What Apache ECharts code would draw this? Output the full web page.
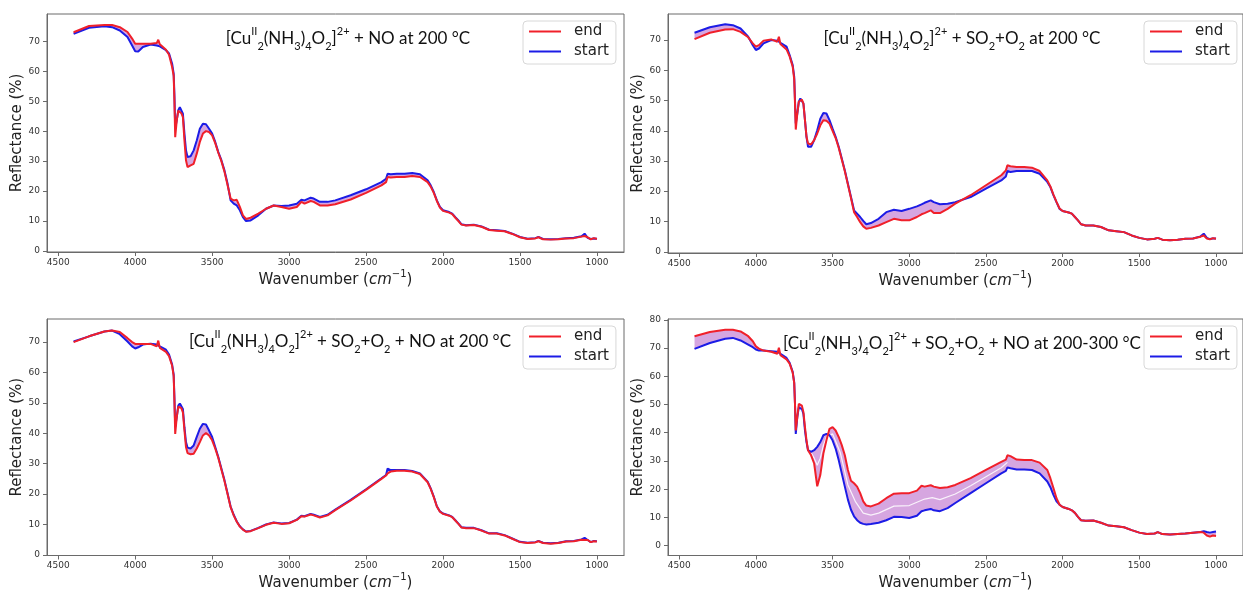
<!DOCTYPE html>
<html>
<head>
<meta charset="utf-8">
<title>Reflectance spectra</title>
<script src="https://cdn.jsdelivr.net/npm/echarts@6/dist/echarts.min.js"></script>
<style>
  html, body { margin: 0; padding: 0; background: #fff; }
  #chart { width: 1243px; height: 592px; }
</style>
</head>
<body>
<div id="chart"></div>
<script>
// wavenumber grid shared by all spectra (cm-1)
const wavenumbers = [
  4400, 4300, 4200, 4150, 4100, 4050, 4020, 4000, 3980, 3950,
  3900, 3860, 3850, 3840, 3800, 3780, 3760, 3750, 3745, 3740,
  3730, 3720, 3710, 3700, 3690, 3680, 3670, 3660, 3640, 3620,
  3600, 3580, 3560, 3540, 3520, 3500, 3480, 3460, 3440, 3420,
  3400, 3380, 3360, 3340, 3320, 3300, 3280, 3250, 3200, 3150,
  3100, 3050, 3000, 2950, 2920, 2900, 2860, 2840, 2800, 2750,
  2700, 2600, 2500, 2400, 2370, 2360, 2340, 2300, 2250, 2200,
  2150, 2100, 2080, 2060, 2040, 2020, 2000, 1960, 1940, 1920,
  1900, 1880, 1850, 1800, 1750, 1700, 1650, 1600, 1550, 1500,
  1450, 1400, 1380, 1350, 1300, 1250, 1200, 1150, 1100, 1080,
  1060, 1040, 1020, 1000
];
const xTicks = [4500, 4000, 3500, 3000, 2500, 2000, 1500, 1000];
const yTicks70 = [0, 10, 20, 30, 40, 50, 60, 70];
const yTicks80 = [0, 10, 20, 30, 40, 50, 60, 70, 80];

// + NO at 200 °C
const startNO = [
  72.5, 74.5, 75.0, 74.7, 73.6, 71.4, 68.6, 66.7, 66.6, 68.1,
  68.9, 68.6, 68.5, 68.3, 67.0, 65.9, 62.5, 59.2, 52.0, 41.0,
  43.6, 47.0, 48.0, 47.5, 45.8, 39.2, 33.6, 31.4, 31.6, 33.6,
  36.9, 40.8, 42.5, 42.3, 40.8, 39.2, 36.4, 33.0, 30.3, 26.9,
  22.5, 16.9, 15.8, 15.2, 13.6, 11.3, 10.0, 10.2, 11.9, 14.1,
  15.2, 15.0, 15.2, 15.8, 17.1, 16.9, 17.8, 17.5, 16.4, 16.4,
  16.9, 18.6, 20.6, 23.0, 24.1, 25.8, 25.6, 25.8, 25.8, 26.0,
  25.6, 23.6, 21.9, 19.7, 16.9, 14.7, 13.6, 13.0, 12.5, 11.3,
  10.2, 8.9, 8.6, 8.8, 8.2, 7.1, 6.9, 6.7, 5.8, 4.7,
  4.1, 4.3, 4.7, 4.0, 3.9, 4.0, 4.3, 4.4, 4.9, 5.8,
  4.4, 4.0, 4.2, 4.1
];
const endNO = [
  73.0, 75.1, 75.4, 75.4, 74.7, 73.1, 70.9, 69.2, 69.2, 69.2,
  69.2, 69.4, 70.5, 69.0, 67.2, 65.5, 61.4, 58.5, 50.0, 38.0,
  43.6, 46.8, 46.4, 46.0, 44.7, 36.9, 30.3, 28.0, 28.6, 29.1,
  32.5, 36.4, 39.2, 40.0, 39.7, 38.6, 36.0, 32.8, 30.0, 26.5,
  22.0, 17.5, 16.9, 17.1, 14.7, 11.9, 10.7, 11.1, 12.5, 14.1,
  15.2, 14.7, 14.1, 14.7, 16.4, 15.8, 16.7, 16.4, 15.2, 15.2,
  15.6, 17.2, 19.4, 21.9, 23.0, 24.7, 24.5, 24.7, 24.7, 25.0,
  24.7, 23.0, 21.5, 19.4, 16.7, 14.5, 13.4, 12.8, 12.3, 11.1,
  10.0, 8.8, 8.5, 8.7, 8.1, 7.0, 6.8, 6.6, 5.7, 4.6,
  4.0, 4.2, 4.6, 3.9, 3.8, 3.9, 4.2, 4.3, 4.8, 5.0,
  4.6, 3.9, 4.3, 4.0
];

// + SO2+O2 at 200 °C
const startSO2 = [
  72.4, 74.2, 75.2, 74.9, 73.8, 71.1, 68.3, 66.7, 67.2, 68.9,
  70.0, 69.8, 69.5, 69.1, 67.8, 65.0, 61.7, 57.8, 50.0, 42.4,
  45.7, 49.6, 50.7, 50.3, 49.0, 43.5, 38.0, 34.7, 34.7, 36.9,
  40.2, 44.0, 45.9, 45.7, 43.5, 40.7, 38.0, 34.7, 30.8, 26.9,
  22.5, 18.1, 13.7, 12.6, 11.5, 10.2, 9.1, 9.5, 10.9, 13.1,
  13.9, 13.5, 14.2, 15.0, 15.7, 16.2, 17.0, 16.4, 15.7, 15.9,
  16.4, 18.1, 20.9, 23.6, 24.9, 26.7, 26.4, 26.7, 26.7, 26.7,
  25.8, 23.1, 21.4, 18.7, 16.4, 14.2, 13.5, 13.0, 12.6, 11.5,
  10.4, 9.1, 8.7, 8.7, 8.2, 7.1, 6.8, 6.5, 5.4, 4.6,
  4.1, 4.3, 4.6, 4.0, 3.8, 4.0, 4.3, 4.4, 5.1, 6.0,
  4.6, 4.2, 4.4, 4.4
];
const endSO2 = [
  70.3, 72.4, 73.5, 73.6, 72.7, 70.9, 68.9, 67.8, 68.3, 69.8,
  70.2, 69.4, 71.1, 68.7, 66.9, 64.6, 61.2, 57.0, 49.0, 40.4,
  45.7, 49.6, 50.1, 50.3, 49.0, 43.5, 38.0, 35.8, 35.5, 36.9,
  39.1, 41.8, 43.5, 43.3, 42.4, 40.0, 37.6, 34.4, 30.5, 26.6,
  22.2, 17.8, 13.1, 11.5, 9.8, 8.4, 7.6, 7.9, 8.7, 9.8,
  10.9, 10.4, 10.4, 11.5, 12.4, 12.8, 13.7, 12.8, 12.8, 14.2,
  15.9, 18.7, 22.0, 25.3, 26.9, 28.6, 28.3, 28.0, 28.0, 27.8,
  26.7, 23.6, 21.6, 18.9, 16.5, 14.3, 13.5, 13.0, 12.6, 11.5,
  10.4, 9.1, 8.7, 8.7, 8.2, 7.1, 6.8, 6.5, 5.4, 4.6,
  4.1, 4.3, 4.6, 4.0, 3.8, 4.0, 4.3, 4.4, 5.0, 5.4,
  4.4, 4.1, 4.5, 4.3
];

// + SO2+O2 + NO at 200 °C
const startMix = [
  70.2, 71.9, 73.5, 73.8, 72.6, 70.2, 68.6, 67.9, 68.3, 69.2,
  69.5, 69.2, 69.3, 68.6, 67.5, 65.9, 62.6, 59.4, 51.8, 42.0,
  45.3, 49.1, 49.8, 49.6, 48.0, 42.0, 37.1, 35.3, 35.0, 36.0,
  38.8, 41.5, 43.1, 42.9, 40.9, 38.8, 35.5, 32.2, 28.4, 24.6,
  20.3, 15.9, 13.2, 11.0, 9.4, 8.4, 7.7, 7.9, 8.9, 10.0,
  10.7, 10.3, 10.5, 11.6, 12.9, 12.7, 13.5, 13.2, 12.5, 13.2,
  14.9, 18.1, 21.6, 25.2, 26.3, 28.4, 27.9, 27.9, 27.9, 27.6,
  26.8, 24.1, 21.9, 19.2, 16.0, 14.3, 13.6, 13.0, 12.5, 11.4,
  10.3, 9.1, 8.9, 8.9, 8.1, 7.1, 7.1, 6.5, 5.4, 4.3,
  4.0, 4.2, 4.6, 4.0, 3.8, 4.0, 4.5, 4.6, 5.1, 5.6,
  4.9, 4.2, 4.6, 4.5
];
const endMix = [
  70.0, 71.9, 73.5, 73.8, 73.3, 71.3, 70.0, 69.4, 69.4, 69.4,
  69.4, 68.6, 70.5, 68.1, 66.8, 65.4, 62.2, 58.8, 50.5, 39.8,
  45.3, 48.8, 48.5, 48.3, 46.9, 41.0, 35.5, 33.5, 33.1, 33.3,
  35.0, 37.1, 39.3, 40.1, 39.3, 37.7, 35.0, 31.9, 28.1, 24.3,
  20.0, 15.7, 13.0, 10.9, 9.3, 8.3, 7.6, 7.8, 8.8, 9.9,
  10.6, 10.2, 10.4, 11.5, 12.7, 12.6, 13.3, 13.0, 12.3, 13.0,
  14.7, 17.9, 21.4, 25.0, 26.1, 26.8, 27.4, 27.7, 27.7, 27.4,
  26.6, 23.9, 21.7, 19.0, 15.9, 14.2, 13.5, 12.9, 12.4, 11.3,
  10.2, 9.0, 8.8, 8.8, 8.0, 7.0, 7.0, 6.4, 5.3, 4.2,
  3.9, 4.1, 4.5, 3.9, 3.7, 3.9, 4.4, 4.5, 5.0, 4.9,
  4.9, 4.2, 4.5, 4.4
];

// + SO2+O2 + NO at 200-300 °C
const startHot = [
  69.7, 71.8, 73.3, 73.6, 72.7, 71.2, 70.3, 69.5, 69.1, 69.1,
  68.9, 68.7, 68.5, 68.0, 66.5, 64.8, 61.6, 57.8, 50.2, 39.6,
  45.5, 49.0, 49.2, 48.4, 46.7, 40.8, 36.7, 33.8, 33.2, 33.8,
  35.0, 36.7, 39.1, 39.6, 39.1, 37.3, 34.4, 30.3, 25.6, 20.9,
  16.3, 12.7, 10.4, 9.0, 8.1, 7.7, 7.5, 7.7, 8.1, 9.0,
  10.2, 10.1, 9.8, 10.6, 12.2, 12.5, 13.0, 12.5, 12.2, 13.3,
  15.1, 18.6, 22.1, 25.6, 26.5, 27.7, 27.4, 27.0, 27.0, 26.8,
  25.6, 22.7, 20.7, 18.0, 15.7, 14.5, 13.7, 13.0, 12.5, 11.6,
  10.2, 9.0, 8.8, 8.9, 8.1, 7.1, 6.9, 6.5, 5.5, 4.6,
  4.1, 4.3, 4.8, 4.1, 3.9, 4.1, 4.3, 4.6, 4.8, 5.1,
  4.8, 4.6, 4.8, 5.0
];
const endHot = [
  74.2, 75.7, 76.5, 76.5, 75.9, 74.2, 72.4, 70.6, 69.8, 69.1,
  68.7, 68.0, 70.1, 67.5, 66.0, 64.5, 61.3, 57.5, 50.0, 40.8,
  45.5, 50.2, 50.4, 49.6, 47.3, 42.0, 37.3, 33.8, 32.0, 29.1,
  21.0, 25.0, 32.6, 37.3, 41.4, 42.0, 40.8, 38.5, 35.6, 32.0,
  26.8, 23.0, 22.1, 20.9, 18.6, 15.7, 14.2, 13.9, 14.9, 16.8,
  18.4, 18.6, 18.6, 19.5, 21.2, 20.9, 21.4, 20.9, 20.4, 20.7,
  21.5, 23.9, 26.8, 29.7, 30.5, 32.0, 31.7, 30.5, 30.3, 30.3,
  29.4, 26.8, 23.9, 20.4, 16.8, 14.5, 13.7, 13.0, 12.5, 11.6,
  10.2, 9.0, 8.8, 8.9, 8.1, 7.1, 6.9, 6.5, 5.5, 4.6,
  4.1, 4.3, 4.8, 4.1, 3.9, 4.1, 4.3, 4.6, 4.8, 4.6,
  3.6, 3.2, 3.6, 3.4
];
// faint white trace inside the 200-300 °C band
const midWn = [3640, 3620, 3600, 3580, 3560, 3540, 3500, 3450, 3400, 3350, 3300, 3250, 3200, 3100, 3000, 2900, 2850, 2800, 2700, 2600, 2500, 2400, 2360];
const midHot = [33.0, 31.0, 28.5, 31.0, 35.5, 38.5, 39.6, 33.0, 21.5, 15.5, 11.5, 10.8, 11.5, 14.0, 14.2, 16.5, 17.0, 16.3, 18.3, 21.2, 24.4, 27.6, 29.5];

const chart = echarts.init(document.getElementById('chart'));

const complexTxt = '{n|[Cu}{sup|II}{sub|2}{n|(NH}{sub|3}{n|)}{sub|4}{n|O}{sub|2}{n|]}{sup|2+}';
const titleFont = 'Lato';
const titleRich = {
    n: {fontSize: 17, fontFamily: titleFont, color: '#111', lineHeight: 26},
    sub: {fontSize: 11, fontFamily: titleFont, color: '#111', lineHeight: 16, verticalAlign: 'bottom'},
    sup: {fontSize: 11, fontFamily: titleFont, color: '#111', lineHeight: 16, verticalAlign: 'top'}
};

const panels = [
    {start: startNO, end: endNO, left: 47, top: 14, height: 238, yMin: -0.33, yMax: 79.1, yTicks: yTicks70,
        title: complexTxt + '{n| + NO at 200 °C}', titleX: 348, titleY: 39},
    {start: startSO2, end: endSO2, left: 668, top: 14, height: 239, yMin: -0.4, yMax: 78.6, yTicks: yTicks70,
        title: complexTxt + '{n| + SO}{sub|2}{n|+O}{sub|2}{n| at 200 °C}', titleX: 962, titleY: 39},
    {start: startMix, end: endMix, left: 47, top: 319, height: 239, yMin: -0.2, yMax: 77.6, yTicks: yTicks70,
        title: complexTxt + '{n| + SO}{sub|2}{n|+O}{sub|2}{n| + NO at 200 °C}', titleX: 350, titleY: 342},
    {start: startHot, end: endHot, left: 668, top: 319, height: 238, yMin: -3.5, yMax: 80.3, yTicks: yTicks80,
        title: complexTxt + '{n| + SO}{sub|2}{n|+O}{sub|2}{n| + NO at 200-300 °C}', titleX: 962, titleY: 344}
];

function pairs(xs, ys) {
    return xs.map((x, i) => [x, ys[i]]);
}

const frameColor = '#6a6a6a';
const grid = [], xAxis = [], yAxis = [], series = [], legend = [], graphic = [];

panels.forEach((p, k) => {
    grid.push({left: p.left, top: p.top, width: 577, height: p.height, show: true,
        borderColor: frameColor, borderWidth: 1, backgroundColor: 'transparent'});

    xAxis.push({
        type: 'value', gridIndex: k, inverse: true, min: 824, max: 4573,
        axisLine: {show: true, onZero: false, lineStyle: {color: frameColor}},
        axisTick: {show: true, length: 4, customValues: xTicks, lineStyle: {color: frameColor}},
        axisLabel: {customValues: xTicks, fontSize: 9, fontFamily: 'DejaVu Sans', color: '#333', margin: 6,
            formatter: v => String(v)},
        splitLine: {show: false},
        name: '{n|Wavenumber (}{i|cm}{s|−1}{n|)}',
        nameLocation: 'middle', nameGap: 17,
        nameTextStyle: {
            rich: {
                n: {fontSize: 15, fontFamily: 'DejaVu Sans', color: '#222', lineHeight: 22},
                i: {fontSize: 15, fontFamily: 'DejaVu Sans', fontStyle: 'italic', color: '#222', lineHeight: 22},
                s: {fontSize: 10, fontFamily: 'DejaVu Sans', color: '#222', lineHeight: 14, verticalAlign: 'top'}
            }
        }
    });

    yAxis.push({
        type: 'value', gridIndex: k, min: p.yMin, max: p.yMax,
        axisLine: {show: true, onZero: false, lineStyle: {color: frameColor}},
        axisTick: {show: true, length: 4, customValues: p.yTicks, lineStyle: {color: frameColor}},
        axisLabel: {customValues: p.yTicks, fontSize: 9, fontFamily: 'DejaVu Sans', color: '#333', margin: 7,
            formatter: v => String(v)},
        splitLine: {show: false},
        name: 'Reflectance (%)', nameLocation: 'middle', nameGap: 22,
        nameTextStyle: {fontSize: 15, fontFamily: 'DejaVu Sans', color: '#222'}
    });

    // shaded band between start and end
    series.push({
        type: 'custom', xAxisIndex: k, yAxisIndex: k, silent: true, clip: true, z: 1,
        data: [[wavenumbers[0], p.start[0]]],
        renderItem: (params, api) => {
            const pts = [];
            wavenumbers.forEach((w, i) => pts.push(api.coord([w, p.start[i]])));
            for (let i = wavenumbers.length - 1; i >= 0; i--) {
                pts.push(api.coord([wavenumbers[i], p.end[i]]));
            }
            return {type: 'polygon', shape: {points: pts}, style: {fill: 'rgba(164, 57, 186, 0.45)'}};
        }
    });

    if (k === 3) {
        series.push({
            type: 'line', name: 'mid', xAxisIndex: k, yAxisIndex: k, data: pairs(midWn, midHot),
            showSymbol: false, symbol: 'none', silent: true, z: 2,
            lineStyle: {width: 1.2, color: 'rgba(255,255,255,0.85)'}
        });
    }

    series.push({
        type: 'line', name: 'start', xAxisIndex: k, yAxisIndex: k, data: pairs(wavenumbers, p.start),
        showSymbol: false, symbol: 'none', silent: true, z: 3, color: '#1c1ce6',
        lineStyle: {width: 2, color: '#1c1ce6'}
    });
    series.push({
        type: 'line', name: 'end', xAxisIndex: k, yAxisIndex: k, data: pairs(wavenumbers, p.end),
        showSymbol: false, symbol: 'none', silent: true, z: 4, color: '#f0202a',
        lineStyle: {width: 2, color: '#f0202a'}
    });

    legend.push({
        data: ['end', 'start'], orient: 'vertical',
        left: p.left + 476, top: p.top + 7,
        icon: 'rect', itemWidth: 32, itemHeight: 2, itemGap: 5,
        padding: [3, 7, 5, 6],
        borderColor: '#d8d8d8', borderWidth: 1, borderRadius: 4, backgroundColor: '#fff',
        selectedMode: false,
        formatter: name => '{t|' + name + '}',
        textStyle: {rich: {t: {fontSize: 15, fontFamily: 'DejaVu Sans', color: '#222', lineHeight: 18, padding: [0, 0, 0, 8]}}}
    });

    graphic.push({
        type: 'text', x: p.titleX, y: p.titleY, z: 10,
        style: {text: p.title, rich: titleRich, align: 'center', verticalAlign: 'middle', fill: '#111'}
    });
});

chart.setOption({
    animation: false,
    backgroundColor: '#fff',
    grid: grid,
    xAxis: xAxis,
    yAxis: yAxis,
    legend: legend,
    series: series,
    graphic: graphic
});
</script>
</body>
</html>
